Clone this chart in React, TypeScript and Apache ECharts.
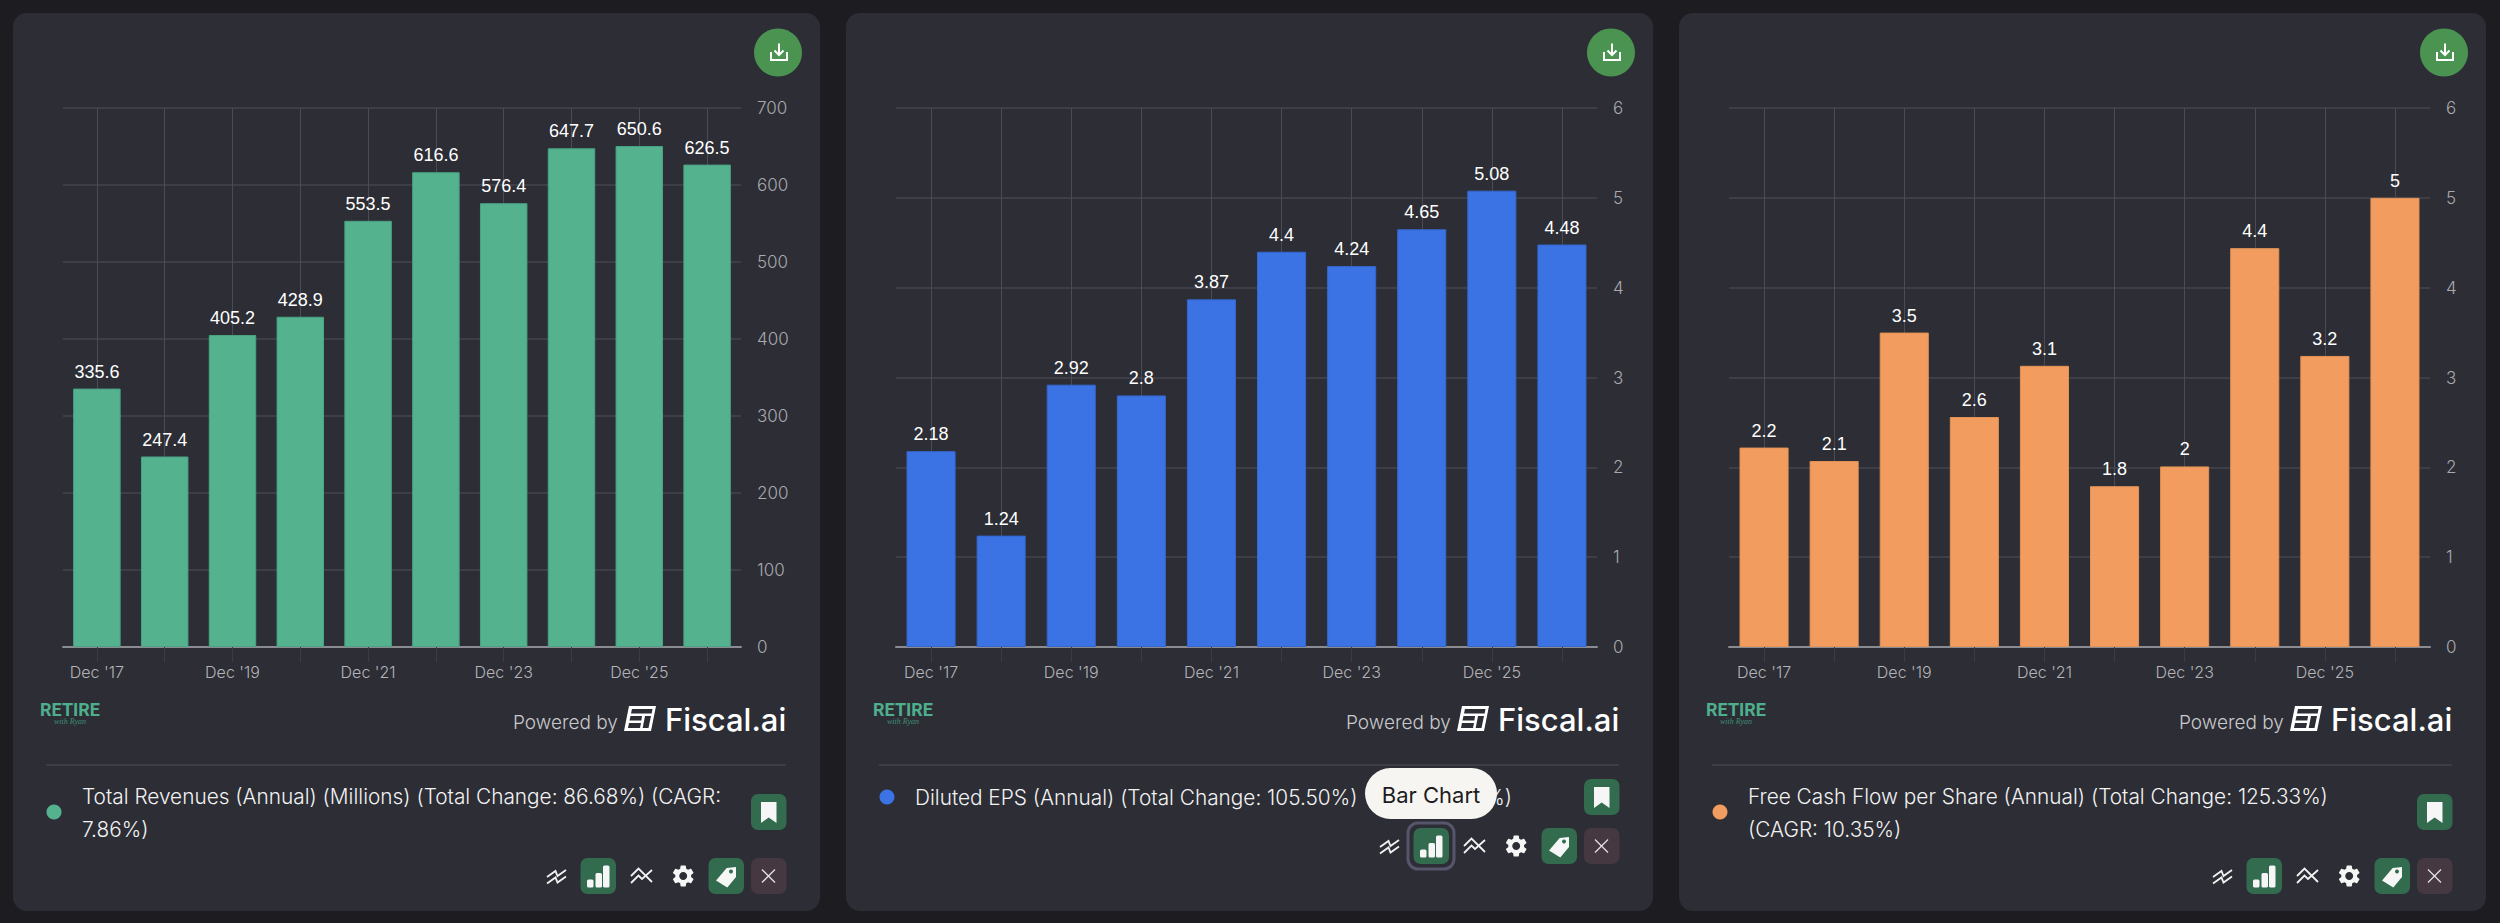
import * as echarts from "echarts";
import { useEffect, useRef } from "react";

const categories = ["Dec '17", "Dec '18", "Dec '19", "Dec '20", "Dec '21", "Dec '22", "Dec '23", "Dec '24", "Dec '25", "Dec '26"];
const revenues = [335.6, 247.4, 405.2, 428.9, 553.5, 616.6, 576.4, 647.7, 650.6, 626.5];
const dilutedEps = [2.18, 1.24, 2.92, 2.8, 3.87, 4.4, 4.24, 4.65, 5.08, 4.48];
// the labels show one decimal, the bar heights read a little finer
const freeCashFlow = [2.22, 2.07, 3.5, 2.56, 3.13, 1.79, 2.01, 4.44, 3.24, 5];

const revenueLegend = ["Total Revenues (Annual) (Millions) (Total Change: 86.68%) (CAGR:", "7.86%)"];
const epsLegend = ["Diluted EPS (Annual) (Total Change: 105.50%)"];
const fcfLegend = ["Free Cash Flow per Share (Annual) (Total Change: 125.33%)", "(CAGR: 10.35%)"];

const BG = "#1c1c21";
const PANEL = "#2c2d35";
const BTN_GREEN = "#336b4f";
const BTN_RED = "#453840";
const UI_FONT = "Inter";
const LEGEND_FONT = `300 20.8px ${UI_FONT}`;

echarts.graphic.registerShape(
  "gearIcon",
  echarts.graphic.extendPath(
    "M19.14 12.94c.04-.3.06-.61.06-.94 0-.32-.02-.64-.07-.94l2.03-1.58a.49.49 0 0 0 .12-.61l-1.92-3.32a.488.488 0 0 0-.59-.22l-2.39.96c-.5-.38-1.03-.7-1.62-.94l-.36-2.54a.484.484 0 0 0-.48-.41h-3.84c-.24 0-.43.17-.47.41l-.36 2.54c-.59.24-1.13.57-1.62.94l-2.39-.96c-.22-.08-.47 0-.59.22L2.74 8.87c-.12.21-.08.47.12.61l2.03 1.58c-.05.3-.09.63-.09.94s.02.64.07.94l-2.03 1.58a.49.49 0 0 0-.12.61l1.92 3.32c.12.22.37.29.59.22l2.39-.96c.5.38 1.03.7 1.62.94l.36 2.54c.05.24.24.41.48.41h3.84c.24 0 .44-.17.47-.41l.36-2.54c.59-.24 1.13-.56 1.62-.94l2.39.96c.22.08.47 0 .59-.22l1.92-3.32c.12-.22.07-.47-.12-.61l-2.01-1.58zM12 15.6c-1.98 0-3.6-1.62-3.6-3.6s1.62-3.6 3.6-3.6 3.6 1.62 3.6 3.6-1.62 3.6-3.6 3.6z",
    {}
  )
);

const txt = (x: number, y: number, text: string, font: string, fill: string, align = "left", z = 5) => ({
  type: "text",
  z,
  silent: true,
  style: { x, y, text, font, fill, align, verticalAlign: "middle" },
});

const btn = (x: number, y: number, w: number, h: number, fill: string, r = 7, z = 3) => ({
  type: "rect",
  z,
  shape: { x, y, width: w, height: h, r },
  style: { fill },
});

const line = (points: number[][], stroke = "#f2f2f2", lineWidth = 1.8, z = 5) => ({
  type: "polyline",
  z,
  shape: { points },
  style: { stroke, lineWidth, fill: "none", lineJoin: "miter" },
});

const poly = (points: number[][], fill = "#f6f6f6", z = 5) => ({
  type: "polygon",
  z,
  shape: { points },
  style: { fill },
});

// the card around one chart, dx is the shift from the first card
const cardParts = (dx: number, color: string, legend: string[], rowTop: number, legendY: number[]) => {
  const x = (v: number) => v + dx;
  const dotY = legend.length === 1 ? legendY[0] : (legendY[0] + legendY[1]) / 2 - 0.5;
  const bookmarkTop = dotY - 18;
  const iconY = rowTop + 18;
  return [
    btn(x(13), 13, 807, 898, PANEL, 14, -10),
    { type: "circle", z: 3, shape: { cx: x(778), cy: 52.5, r: 24 }, style: { fill: "#4a9350" } },
    line([[x(779), 43.5], [x(779), 55]], "#fff", 2),
    line([[x(774.5), 50.5], [x(779), 55], [x(783.5), 50.5]], "#fff", 2),
    line([[x(771), 52], [x(771), 60], [x(787), 60], [x(787), 52]], "#fff", 2),

    txt(x(70), 709.5, "RETIRE", `700 18px Roboto`, "#4fae8c", "center"),
    txt(x(70), 721, "with Ryan", `italic 8px "Liberation Serif"`, "#3f8f74", "center"),
    txt(x(513), 722, "Powered by", `300 19px ${UI_FONT}`, "#c9c9cc"),
    txt(x(665), 719.5, "Fiscal.ai", `500 31px ${UI_FONT}`, "#ffffff"),
    poly([[x(629), 706], [x(656), 706], [x(651), 731], [x(624), 731]], "#ffffff"),
    poly([[x(632), 709], [x(652.5), 709], [x(651.7), 713.5], [x(631), 713.5]], PANEL),
    poly([[x(630.5), 716], [x(642), 716], [x(641.4), 720.5], [x(629.5), 720.5]], PANEL),
    poly([[x(645), 716], [x(651), 716], [x(648.5), 728], [x(642.7), 728]], PANEL),
    poly([[x(629), 723], [x(641), 723], [x(640), 728], [x(628), 728]], PANEL),

    line([[x(46), 765], [x(786), 765]], "#43434f", 1.5),
    { type: "circle", z: 3, shape: { cx: x(54), cy: dotY, r: 7.5 }, style: { fill: color } },
    ...legend.map((t, i) => txt(x(82), legendY[i], t, LEGEND_FONT, "#f2f2f2")),

    btn(x(751), bookmarkTop, 35.5, 36, BTN_GREEN),
    poly([
      [x(761), bookmarkTop + 8],
      [x(776.5), bookmarkTop + 8],
      [x(776.5), bookmarkTop + 29],
      [x(768.7), bookmarkTop + 23.5],
      [x(761), bookmarkTop + 29],
    ]),

    // toolbar
    line([[x(547), iconY + 1], [x(555.5), iconY - 5], [x(557.5), iconY], [x(566), iconY - 6]]),
    line([[x(547), iconY + 7.5], [x(555.5), iconY + 1.5], [x(557.5), iconY + 6.5], [x(566), iconY + 0.5]]),
    btn(x(580.5), rowTop, 35.5, 36, BTN_GREEN),
    btn(x(587), iconY + 3.5, 6.5, 8, "#f6f6f6", 1.5, 5),
    btn(x(595.5), iconY - 3, 6.5, 14.5, "#f6f6f6", 1.5, 5),
    btn(x(603), iconY - 10.5, 6.5, 22, "#f6f6f6", 1.5, 5),
    line([[x(631), iconY], [x(638.5), iconY - 7.5], [x(652), iconY + 6]]),
    line([[x(631), iconY + 7], [x(638.5), iconY - 0.5], [x(642), iconY + 3], [x(652), iconY - 6]]),
    { type: "gearIcon", z: 5, x: x(670), y: iconY - 13.2, scaleX: 1.1, scaleY: 1.1, style: { fill: "#f6f6f6" } },
    btn(x(708.5), rowTop, 35.5, 36, BTN_GREEN),
    poly([[x(736), iconY - 9], [x(726.7), iconY - 8], [x(716), iconY + 4.5], [x(727.3), iconY + 11.5], [x(736), iconY + 1]]),
    { type: "circle", z: 6, shape: { cx: x(731), cy: iconY - 4.5, r: 2 }, style: { fill: BTN_GREEN } },
    btn(x(751), rowTop, 35.5, 36, BTN_RED),
    line([[x(762), iconY - 6.5], [x(775), iconY + 6.5]], "#e8e2e2", 1.3),
    line([[x(775), iconY - 6.5], [x(762), iconY + 6.5]], "#e8e2e2", 1.3),
  ];
};

const axisPair = (i: number, left: number, width: number, max: number, step: number) => ({
  grid: { left, top: 108, width, height: 539 },
  xAxis: {
    type: "category",
    gridIndex: i,
    data: categories,
    axisLine: { lineStyle: { color: "#8b8b92", width: 2 } },
    axisTick: { show: true, alignWithLabel: true, interval: 0, length: 15, lineStyle: { color: "#3b3b44", width: 1 } },
    axisLabel: { interval: 1, margin: 17, color: "#b4b4b8", fontSize: 16, fontFamily: UI_FONT, fontWeight: 300 },
    splitLine: { show: true, alignWithLabel: true, interval: 0, lineStyle: { color: "#4b4b54", width: 1 } },
  },
  yAxis: {
    type: "value",
    gridIndex: i,
    position: "right",
    min: 0,
    max,
    interval: step,
    axisLine: { show: false },
    axisTick: { show: false },
    axisLabel: { margin: 16, color: "#a9a9ae", fontSize: 17, fontFamily: UI_FONT, fontWeight: 300 },
    splitLine: { lineStyle: { color: "#45454e", width: 1.5 } },
  },
});

const barSeries = (i: number, name: string, data: number[], color: string, border: string, decimals: number) => ({
  type: "bar",
  name,
  xAxisIndex: i,
  yAxisIndex: i,
  data,
  barWidth: "70%",
  itemStyle: { color, borderColor: border, borderWidth: 1 },
  label: {
    show: true,
    position: "top",
    distance: 8,
    color: "#ffffff",
    fontSize: 18,
    fontFamily: "Liberation Sans",
    formatter: (p: any) => String(Number(p.value.toFixed(decimals))),
  },
});

const App = () => {
  const chartRef = useRef<HTMLDivElement>(null);

  useEffect(() => {
    if (!chartRef.current) return;
    document.body.style.margin = "0";
    document.body.style.background = BG;

    const myChart = echarts.init(chartRef.current, null, { renderer: "svg" });

    const pairs = [
      axisPair(0, 63, 678, 700, 100),
      axisPair(1, 896, 701, 6, 1),
      axisPair(2, 1729, 701, 6, 1),
    ];

    myChart.setOption({
      animation: false,
      backgroundColor: BG,
      grid: pairs.map((p) => p.grid),
      xAxis: pairs.map((p) => p.xAxis),
      yAxis: pairs.map((p) => p.yAxis),
      series: [
        barSeries(0, "Total Revenues", revenues, "#54b28f", "#4aa384", 1),
        barSeries(1, "Diluted EPS", dilutedEps, "#3b72e4", "#3567cf", 2),
        barSeries(2, "Free Cash Flow per Share", freeCashFlow, "#f29d5f", "#e29357", 1),
      ],
      graphic: {
        elements: [
          ...cardParts(0, "#54b28f", revenueLegend, 858, [796, 829]),
          ...cardParts(833, "#3b72e4", epsLegend, 828, [797]),
          ...cardParts(1666, "#f29d5f", fcfLegend, 858, [796, 829]),
          // the end of the EPS legend that shows past the tooltip
          txt(1512, 797, "%)", LEGEND_FONT, "#f2f2f2", "right"),
          btn(1365, 768, 132, 51, "#f6f5f2", 25.5, 20),
          txt(1431, 795, "Bar Chart", `400 22px ${UI_FONT}`, "#1c1c21", "center", 21),
          {
            type: "rect",
            z: 6,
            shape: { x: 1408, y: 823, width: 46, height: 46, r: 10 },
            style: { fill: "none", stroke: "#55556c", lineWidth: 3 },
          },
        ],
      },
    });

    return () => {
      myChart.dispose();
    };
  }, []);

  return <div ref={chartRef} style={{ width: "2500px", height: "923px" }} />;
};

export default App;
